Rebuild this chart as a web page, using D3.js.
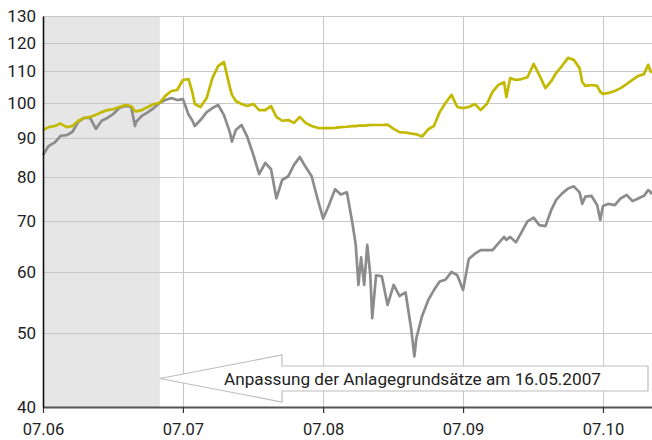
<!DOCTYPE html>
<html><head><meta charset="utf-8">
<script src="https://cdn.jsdelivr.net/npm/d3@7"></script>
<style>html,body{margin:0;padding:0;background:#fff;} svg{display:block;}</style>
</head><body>
<svg id="chart" width="652" height="440"></svg>
<script>
const dates = ["2006-07-01","2006-07-16","2006-08-01","2006-08-16","2006-09-01","2006-09-16","2006-10-01","2006-10-16","2006-11-01","2006-11-16","2006-12-01","2006-12-16",
"2007-01-01","2007-01-16","2007-02-01","2007-02-16","2007-02-26","2007-03-01","2007-03-16","2007-04-01","2007-04-16","2007-05-01","2007-05-16","2007-06-01","2007-06-16",
"2007-07-01","2007-07-16","2007-07-26","2007-08-01","2007-08-16","2007-09-01","2007-09-16","2007-10-01","2007-10-16","2007-11-01","2007-11-06","2007-11-16","2007-12-01","2007-12-16",
"2008-01-01","2008-01-16","2008-02-01","2008-02-16","2008-03-01","2008-03-16","2008-04-01","2008-04-16","2008-05-01","2008-05-16","2008-06-01","2008-06-16",
"2008-07-01","2008-07-16","2008-08-01","2008-08-16","2008-09-01","2008-09-16","2008-09-24","2008-10-01","2008-10-08","2008-10-16","2008-10-24","2008-11-01","2008-11-06","2008-11-16","2008-12-01","2008-12-16",
"2009-01-01","2009-01-16","2009-02-01","2009-02-16","2009-02-24","2009-03-01","2009-03-16","2009-04-01","2009-04-16","2009-05-01","2009-05-16","2009-06-01","2009-06-16",
"2009-07-01","2009-07-16","2009-08-01","2009-08-16","2009-09-01","2009-09-16","2009-10-01","2009-10-16","2009-10-22","2009-11-01","2009-11-16","2009-12-01","2009-12-16",
"2010-01-01","2010-01-16","2010-02-01","2010-02-16","2010-03-01","2010-03-16","2010-04-01","2010-04-16","2010-05-01","2010-05-08","2010-05-16","2010-06-01","2010-06-16","2010-06-24",
"2010-07-01","2010-07-16","2010-08-01","2010-08-16","2010-09-01","2010-09-16","2010-10-01","2010-10-16","2010-10-27","2010-11-01","2010-11-05"];

// grey series
const fonds = [85.5,87.9,88.8,90.6,90.8,91.7,94.5,95.6,95.6,92.5,94.8,95.6,
96.8,98.5,99.1,98.8,93.3,94.5,96.2,97.3,98.5,100.0,100.9,101.5,100.9,
101.2,96.5,94.8,93.3,95.0,97.3,98.5,99.4,96.5,91.4,89.0,92.2,93.6,90.3,
85.5,80.7,83.5,81.9,75.0,79.3,80.2,83.0,85.0,82.5,80.2,75.0,
70.6,73.5,77.1,75.9,76.4,69.3,65.2,57.8,62.8,57.8,65.2,59.5,52.3,59.5,59.3,54.4,
57.8,55.9,56.5,50.5,46.6,49.2,52.6,55.2,56.9,58.4,58.7,60.1,59.5,
56.9,62.5,63.5,64.2,64.2,64.2,65.5,66.8,66.2,66.8,65.7,67.8,70.0,
70.8,69.2,69.0,72.4,74.7,76.1,77.3,77.8,76.4,73.8,75.4,75.6,73.5,70.3,
73.3,73.8,73.5,75.0,75.8,74.4,75.0,75.6,76.9,76.6,75.9];

// yellow series
const benchmark = [92.2,93.0,93.3,94.0,93.0,93.3,94.8,95.6,95.9,96.5,97.3,97.9,
98.2,98.8,99.4,99.1,97.6,97.5,97.9,98.8,99.7,100.0,102.2,103.7,104.0,
107.2,107.5,103.1,99.7,98.8,101.5,107.8,111.8,113.2,104.6,102.5,100.6,99.7,99.1,
99.7,97.9,97.9,99.1,95.9,94.8,95.0,94.2,95.9,94.2,93.3,92.8,
92.7,92.7,92.8,93.0,93.1,93.3,93.3,93.4,93.4,93.4,93.5,93.6,93.6,93.6,93.6,93.7,
92.5,91.6,91.5,91.2,91.1,91.0,90.4,92.4,93.3,97.3,100.0,102.5,98.8,
98.5,98.8,99.7,97.9,99.7,103.4,105.6,106.5,101.8,107.8,107.2,107.5,108.1,
112.5,108.8,104.6,106.8,109.5,111.8,114.6,113.9,111.1,106.5,105.3,105.6,105.3,103.4,
102.8,103.1,103.7,104.6,105.9,107.2,108.5,109.1,112.2,110.5,109.5];

const yTicks = [40,50,60,70,80,90,100,110,120,130];
const xTickDates = ["2006-07-01","2007-07-01","2008-07-01","2009-07-01","2010-07-01"];
const xTickLabels = ["07.06","07.07","07.08","07.09","07.10"];
const xDomain = ["2006-07-01","2010-11-06"];
const shadeRange = ["2006-07-01","2007-05-02"];
const annotationText = "Anpassung der Anlagegrundsätze am 16.05.2007";

const parse = d3.timeParse("%Y-%m-%d");
const L = 43, R = 652, T = 16, B = 407;
const svg = d3.select("#chart");
const x = d3.scaleTime().domain(xDomain.map(parse)).range([L, R]);
const y = d3.scaleLog().domain([40, 130]).range([B, T]);
const FONT = "Roboto, 'Liberation Sans', Arial, sans-serif";

// shaded period
const shadeEnd = x(parse(shadeRange[1]));
svg.append("rect")
  .attr("x", x(parse(shadeRange[0]))).attr("y", T)
  .attr("width", shadeEnd - x(parse(shadeRange[0])))
  .attr("height", B - T).attr("fill", "#e6e6e6");

// grid
svg.append("g").selectAll("line").data(yTicks.filter(v => v > 40)).join("line")
  .attr("x1", L).attr("x2", R).attr("y1", d => Math.round(y(d)) + 0.5).attr("y2", d => Math.round(y(d)) + 0.5)
  .attr("stroke", "#c8c8c8").attr("stroke-width", 1);
svg.append("g").selectAll("line").data(xTickDates.slice(1)).join("line")
  .attr("x1", d => Math.round(x(parse(d))) + 0.5).attr("x2", d => Math.round(x(parse(d))) + 0.5)
  .attr("y1", T).attr("y2", B).attr("stroke", "#c8c8c8").attr("stroke-width", 1);

// annotation arrow (tip at end of shaded period)
const ay = 378.5;
const arrow = [[shadeEnd, ay], [282, 355], [282, 366], [648, 366], [648, 391], [282, 391], [282, 402]];
svg.append("polygon").attr("points", arrow.map(p => p.join(",")).join(" "))
  .attr("fill", "#fff").attr("stroke", "#bdbdbd").attr("stroke-width", 1.2);
svg.append("text").attr("x", 224).attr("y", 385).text(annotationText)
  .attr("font-family", FONT).attr("font-size", 17.2).attr("fill", "#222");

// lines
const lineGen = vals => d3.line().x((d, i) => x(parse(dates[i]))).y(d => y(d))(vals);
svg.append("path").attr("d", lineGen(fonds)).attr("fill", "none")
  .attr("stroke", "#8c8c8c").attr("stroke-width", 2.7).attr("stroke-linejoin", "round");
svg.append("path").attr("d", lineGen(benchmark)).attr("fill", "none")
  .attr("stroke", "#c2b900").attr("stroke-width", 2.7).attr("stroke-linejoin", "round");

// axes
const xAxis = svg.append("g").attr("transform", `translate(0,${B})`)
  .call(d3.axisBottom(x).tickValues(xTickDates.map(parse)).tickFormat((d, i) => xTickLabels[i])
    .tickSize(6).tickSizeOuter(0).tickPadding(12));
xAxis.select(".domain").attr("stroke", "#555").attr("stroke-width", 2);
xAxis.selectAll(".tick line").attr("stroke", "#333").attr("stroke-width", 1.2);
xAxis.selectAll("text").attr("font-family", FONT).attr("font-size", 16.5).attr("fill", "#222")
  .attr("dy", null).attr("dominant-baseline", null).attr("y", 28);

const yAxis = svg.append("g").attr("transform", `translate(${L},0)`)
  .call(d3.axisLeft(y).tickValues(yTicks).tickFormat(d3.format("d")).tickSize(0).tickPadding(7));
yAxis.select(".domain").attr("stroke", "#111").attr("stroke-width", 1.6);
yAxis.selectAll("text").attr("font-family", FONT).attr("font-size", 17).attr("fill", "#222");
</script>
</body></html>
